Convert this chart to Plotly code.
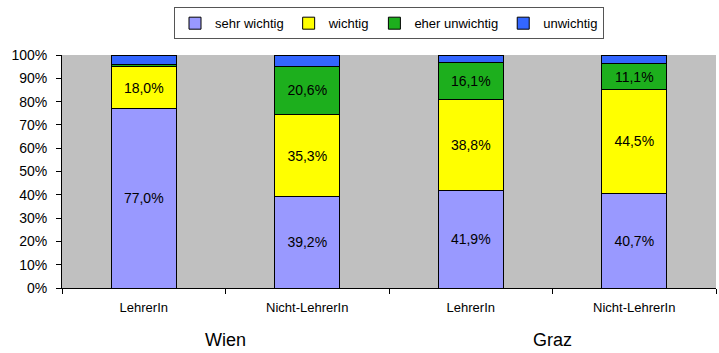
import plotly.graph_objects as go

categories = ["LehrerIn (Wien)", "Nicht-LehrerIn (Wien)", "LehrerIn (Graz)", "Nicht-LehrerIn (Graz)"]
cat_labels = ["LehrerIn", "Nicht-LehrerIn", "LehrerIn", "Nicht-LehrerIn"]
groups = ["Wien", "Graz"]
series_names = ["sehr wichtig", "wichtig", "eher unwichtig", "unwichtig"]
sehr_wichtig = [77.0, 39.2, 41.9, 40.7]
wichtig = [18.0, 35.3, 38.8, 44.5]
eher_unwichtig = [1.0, 20.6, 16.1, 11.1]
unwichtig = [4.0, 4.9, 3.2, 3.7]
colors = ["#9999FF", "#FFFF00", "#1DAF1D", "#3366FF"]
label_min = 5.0

fig = go.Figure()
for name, vals, col in zip(series_names, [sehr_wichtig, wichtig, eher_unwichtig, unwichtig], colors):
    txt = [f"{v:.1f}%".replace(".", ",") if v >= label_min and name != "unwichtig" else "" for v in vals]
    fig.add_trace(go.Bar(
        x=categories, y=vals, name=name, marker=dict(color=col, line=dict(color="black", width=1)),
        text=txt, textposition="inside", insidetextanchor="middle", textangle=0,
        textfont=dict(family="Liberation Sans, Arial", size=14, color="black"),
        width=0.4, hoverinfo="skip",
    ))

fig.update_layout(
    barmode="stack",
    width=719, height=353,
    margin=dict(l=62, r=3, t=55, b=65),
    plot_bgcolor="#C0C0C0",
    paper_bgcolor="white",
    font=dict(family="Liberation Sans, Arial", size=13, color="black"),
    showlegend=True,
    legend=dict(orientation="h", x=0.5, xanchor="center", y=1.205, yanchor="top",
                bordercolor="#555555", borderwidth=1, font=dict(size=13),
                itemwidth=30, traceorder="normal"),
    uniformtext=dict(mode=False),
)
fig.update_xaxes(
    type="category", tickmode="array", tickvals=categories, ticktext=cat_labels,
    tickson="boundaries", ticks="outside", ticklen=5, tickcolor="black",
    showline=True, linecolor="black", showgrid=False,
    tickfont=dict(size=13), range=[-0.5, 3.5], ticklabelstandoff=7,
)
fig.update_yaxes(
    range=[0, 100], tickvals=list(range(0, 101, 10)),
    ticktext=[f"{v}%" for v in range(0, 101, 10)],
    ticks="outside", ticklen=5, tickcolor="black",
    showline=True, linecolor="black", showgrid=False, zeroline=False,
    tickfont=dict(size=14), ticklabelstandoff=6,
)
for i, g in enumerate(groups):
    fig.add_annotation(x=(2 * i + 1) / 4, xref="paper", xanchor="center", y=-0.225, yref="paper",
                       text=g, showarrow=False, font=dict(size=18), yanchor="middle")

fig.write_html("out.html")
